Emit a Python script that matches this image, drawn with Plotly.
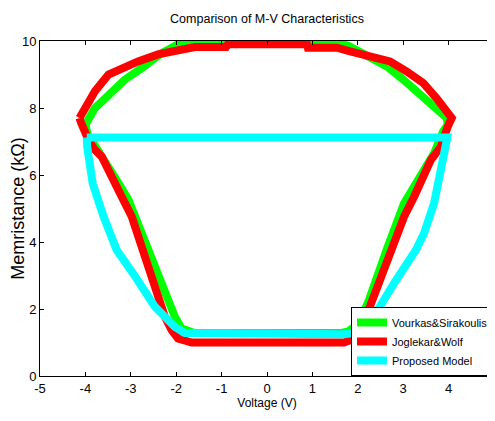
import plotly.graph_objects as go

# Vourkas&Sirakoulis (green) closed loop
green_v = [-4.0, -3.93, -3.79, -3.57, -3.42, -3.13, -2.76, -2.32, -1.96, -1.66, 0.0, 1.46, 1.8, 2.2, 2.64, 3.0, 3.37, 3.74, 3.96, 3.98,
           3.88, 3.68, 3.32, 3.02, 2.66, 2.44, 2.22, 2.07, 1.93, 1.78, 1.6, 0.0, -1.6, -1.74, -1.88, -2.03, -2.18, -2.4, -2.62, -2.76,
           -3.05, -3.27, -3.57, -3.8, -3.95, -4.0]
green_m = [7.5, 7.7, 8.0, 8.28, 8.5, 8.85, 9.19, 9.64, 9.9, 10.0, 10.0, 10.0, 9.85, 9.54, 9.24, 8.85, 8.4, 8.0, 7.7, 7.5,
           7.3, 6.65, 5.85, 5.16, 3.86, 2.96, 2.17, 1.77, 1.47, 1.32, 1.28, 1.28, 1.28, 1.35, 1.42, 1.77, 2.27, 2.96, 3.76, 4.26,
           5.25, 5.75, 6.45, 6.9, 7.2, 7.5]

# Joglekar&Wolf (red) closed loop
red_v = [-4.13, -3.93, -3.79, -3.49, -3.2, -2.84, -2.4, -1.96, -1.59, -0.9, -0.86, 0.0, 0.88, 0.9, 1.54, 1.83, 2.27, 2.71, 3.08, 3.44, 3.74, 4.07,
         3.98, 3.83, 3.61, 3.46, 3.24, 3.02, 2.8, 2.51, 2.37, 2.22, 2.07, 1.93, 1.7, 0.0, -1.66, -1.96, -2.1, -2.25, -2.4, -2.54,
         -2.8, -2.98, -3.2, -3.38, -3.49, -3.64, -3.79, -3.93, -4.09, -4.13]
red_m = [7.70, 8.20, 8.50, 9.0, 9.19, 9.39, 9.6, 9.75, 9.82, 9.82, 9.9, 9.9, 9.9, 9.8, 9.8, 9.69, 9.54, 9.39, 9.09, 8.75, 8.28, 7.70,
         7.44, 6.84, 6.45, 5.95, 5.35, 4.76, 3.96, 2.96, 2.37, 1.77, 1.37, 1.12, 1.0, 1.0, 1.0, 1.12, 1.37, 1.77, 2.37, 2.96,
         3.96, 4.76, 5.35, 5.85, 6.15, 6.55, 6.75, 7.04, 7.54, 7.70]

# Proposed Model (cyan) closed loop
cyan_v = [-3.97, 3.97, 3.94, 3.83, 3.68, 3.46, 3.28, 2.8, 2.44, 2.07, 1.85, 1.7, 0.0, -1.7, -1.81, -2.03, -2.47, -2.9, -3.31,
          -3.6, -3.84, -3.96, -3.97]
cyan_m = [7.12, 7.12, 6.9, 6.05, 5.16, 4.26, 3.76, 2.77, 1.97, 1.47, 1.27, 1.25, 1.25, 1.25, 1.28, 1.47, 2.07, 2.96, 3.76,
          4.76, 5.75, 6.84, 7.12]

x_ticks = [-5, -4, -3, -2, -1, 0, 1, 2, 3, 4, 5]
y_ticks = [0, 2, 4, 6, 8, 10]

FONT = "Liberation Sans, Arial, sans-serif"

fig = go.Figure()
fig.add_trace(go.Scatter(x=green_v, y=green_m, mode="lines", name="Vourkas&Sirakoulis",
                         line=dict(color="#00ff00", width=8)))
fig.add_trace(go.Scatter(x=red_v, y=red_m, mode="lines", name="Joglekar&Wolf",
                         line=dict(color="#ff0000", width=8)))
fig.add_trace(go.Scatter(x=cyan_v, y=cyan_m, mode="lines", name="Proposed Model",
                         line=dict(color="#00ffff", width=8)))

axis_common = dict(showgrid=False, zeroline=False, showline=True, linecolor="black", linewidth=1,
                   mirror="allticks", ticks="inside", ticklen=4, tickcolor="black", automargin=False,
                   tickfont=dict(family=FONT, size=13, color="black"))

# page body has an 8px margin, so the figure is sized to fit the 495x421 window
W, H = 487, 413
fig.update_layout(
    template="none",
    width=W, height=H,
    margin=dict(l=32, r=1, t=33, b=45),
    paper_bgcolor="white", plot_bgcolor="white",
    title=dict(text="Comparison of M-V Characteristics", x=0.5, xref="paper",
               y=1 - 11 / H, yref="container", yanchor="middle", xanchor="center",
               font=dict(family=FONT, size=12.5, color="black")),
    xaxis=dict(range=[-5, 5], tickvals=x_ticks, ticktext=[str(t) for t in x_ticks],
               title=dict(text="Voltage (V)", standoff=4, font=dict(family=FONT, size=12, color="black")),
               **axis_common),
    yaxis=dict(range=[0, 10], tickvals=y_ticks, ticktext=[str(t) for t in y_ticks],
               title=dict(text="Memristance (kΩ)", standoff=4,
                          font=dict(family=FONT, size=18, color="black")),
               **axis_common),
    legend=dict(x=1, xanchor="right", y=0, yanchor="bottom", bgcolor="white",
                bordercolor="black", borderwidth=1, itemwidth=30, tracegroupgap=0,
                font=dict(family=FONT, size=11, color="black")),
    showlegend=True,
)

fig.write_html("out.html")
